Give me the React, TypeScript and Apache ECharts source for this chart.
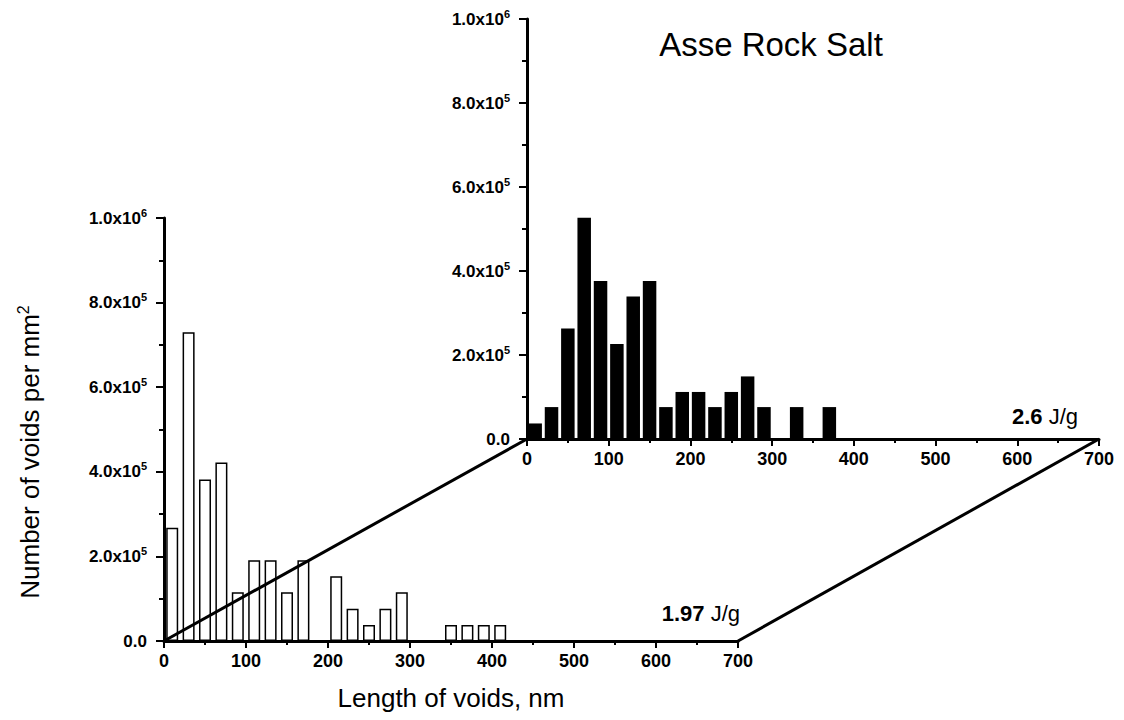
import React, { useEffect, useRef } from "react";
import * as echarts from "echarts";

// Lower (1.97 J/g) histogram: bin centres (nm) and void densities (per mm^2)
const lowerCenters = [10, 30, 50, 70, 90, 110, 130, 150, 170, 210, 230, 250, 270, 290, 350, 370, 390, 410];
const lowerValues = [268000, 730000, 382000, 422000, 115000, 191000, 191000, 115000, 191000, 153000, 76000, 38000, 76000, 115000, 38000, 38000, 38000, 38000];

// Upper (2.6 J/g) histogram
const upperCenters = [10, 30, 50, 70, 90, 110, 130, 150, 170, 190, 210, 230, 250, 270, 290, 330, 370];
const upperValues = [37000, 76000, 263000, 527000, 376000, 226000, 339000, 376000, 76000, 112000, 112000, 76000, 112000, 149000, 76000, 76000, 76000];

const xTicks = { min: 0, max: 700, interval: 100 };
const yTicks = { min: 0, max: 1000000, interval: 200000 };

const FONT = "'Liberation Sans', Arial, Helvetica, sans-serif";

function yLabel(v: number): string {
  if (v === 0) return "{m|0.0}";
  const exp = Math.floor(Math.log10(v) + 1e-9);
  const mant = v / Math.pow(10, exp);
  return `{m|${mant.toFixed(1)}x10}{s|${exp}}`;
}

const richY = {
  m: { fontSize: 17, fontWeight: "bold", fontFamily: FONT, color: "#000", lineHeight: 22 },
  s: { fontSize: 11, fontWeight: "bold", fontFamily: FONT, color: "#000", lineHeight: 11, verticalAlign: "top" },
};

function makeX(gridIndex: number) {
  return {
    type: "value",
    gridIndex,
    min: xTicks.min,
    max: xTicks.max,
    interval: xTicks.interval,
    splitLine: { show: false },
    axisLine: { show: true, onZero: false, lineStyle: { color: "#000", width: 3 } },
    axisTick: { show: true, inside: false, length: 7, lineStyle: { color: "#000", width: 2 } },
    minorTick: { show: true, splitNumber: 2, length: 4, lineStyle: { color: "#000", width: 2 } },
    axisLabel: { color: "#000", fontSize: 18, fontWeight: "bold", fontFamily: FONT, margin: 11 },
  };
}

function makeY(gridIndex: number) {
  return {
    type: "value",
    gridIndex,
    min: yTicks.min,
    max: yTicks.max,
    interval: yTicks.interval,
    splitLine: { show: false },
    axisLine: { show: true, onZero: false, lineStyle: { color: "#000", width: 3 } },
    axisTick: { show: true, inside: false, length: 8, lineStyle: { color: "#000", width: 2 } },
    minorTick: { show: true, splitNumber: 2, length: 5, lineStyle: { color: "#000", width: 2 } },
    axisLabel: { formatter: yLabel, rich: richY, margin: 17 },
  };
}

export default function App() {
  const ref = useRef<HTMLDivElement>(null);

  useEffect(() => {
    document.body.style.margin = "0";
    const chart = echarts.init(ref.current!, null, { renderer: "svg" });
    chart.setOption({
      animation: false,
      backgroundColor: "#fff",
      grid: [
        { left: 164, top: 218, width: 574, height: 423 },
        { left: 527, top: 19, width: 572, height: 420 },
      ],
      xAxis: [makeX(0), makeX(1)],
      yAxis: [makeY(0), makeY(1)],
      series: [
        {
          type: "bar",
          xAxisIndex: 0,
          yAxisIndex: 0,
          barWidth: 12,
          data: lowerCenters.map((c, i) => [c, lowerValues[i]]),
          itemStyle: { color: "#fff", borderColor: "#000", borderWidth: 1.5 },
          z: 3,
        },
        {
          type: "bar",
          xAxisIndex: 1,
          yAxisIndex: 1,
          barWidth: 13.5,
          data: upperCenters.map((c, i) => [c, upperValues[i]]),
          itemStyle: { color: "#000", borderWidth: 0 },
          z: 3,
        },
      ],
    });

    const a0 = chart.convertToPixel({ xAxisIndex: 0, yAxisIndex: 0 }, [xTicks.min, 0]) as number[];
    const a1 = chart.convertToPixel({ xAxisIndex: 0, yAxisIndex: 0 }, [xTicks.max, 0]) as number[];
    const b0 = chart.convertToPixel({ xAxisIndex: 1, yAxisIndex: 1 }, [xTicks.min, 0]) as number[];
    const b1 = chart.convertToPixel({ xAxisIndex: 1, yAxisIndex: 1 }, [xTicks.max, 0]) as number[];

    const energyRich = {
      b: { fontSize: 22, fontWeight: "bold", fontFamily: FONT, fill: "#000", color: "#000" },
      r: { fontSize: 22, fontFamily: FONT, fill: "#000", color: "#000" },
    };

    chart.setOption({
      graphic: [
        {
          type: "line",
          z: 20,
          shape: { x1: a0[0], y1: a0[1], x2: b0[0], y2: b0[1] },
          style: { stroke: "#000", lineWidth: 3 },
        },
        {
          type: "line",
          z: 20,
          shape: { x1: a1[0], y1: a1[1], x2: b1[0], y2: b1[1] },
          style: { stroke: "#000", lineWidth: 3 },
        },
        {
          type: "text",
          z: 20,
          x: 771,
          y: 44,
          style: { text: "Asse Rock Salt", font: `33px ${FONT}`, fill: "#000", textAlign: "center", textVerticalAlign: "middle" },
        },
        {
          type: "text",
          z: 20,
          x: 740,
          y: 613,
          style: {
            text: "{b|1.97} {r|J/g}",
            textAlign: "right",
            textVerticalAlign: "middle",
            rich: energyRich,
            font: `22px ${FONT}`,
            fill: "#000",
          },
        },
        {
          type: "text",
          z: 20,
          x: 1078,
          y: 416,
          style: {
            text: "{b|2.6} {r|J/g}",
            textAlign: "right",
            textVerticalAlign: "middle",
            rich: energyRich,
            font: `22px ${FONT}`,
            fill: "#000",
          },
        },
        {
          type: "text",
          z: 20,
          x: 451,
          y: 698,
          style: { text: "Length of voids, nm", font: `26px ${FONT}`, fill: "#000", textAlign: "center", textVerticalAlign: "middle" },
        },
        {
          type: "text",
          z: 20,
          x: 30,
          y: 452,
          rotation: Math.PI / 2,
          style: {
            text: "{a|Number of voids per mm}{s|2}",
            textAlign: "center",
            textVerticalAlign: "middle",
            font: `26px ${FONT}`,
            fill: "#000",
            rich: {
              a: { fontSize: 26, fontFamily: FONT, fill: "#000", color: "#000", lineHeight: 30 },
              s: { fontSize: 16, fontFamily: FONT, fill: "#000", color: "#000", lineHeight: 16, verticalAlign: "top" },
            },
          },
        },
      ],
    });

    return () => chart.dispose();
  }, []);

  return <div ref={ref} style={{ width: 1124, height: 720 }} />;
}
